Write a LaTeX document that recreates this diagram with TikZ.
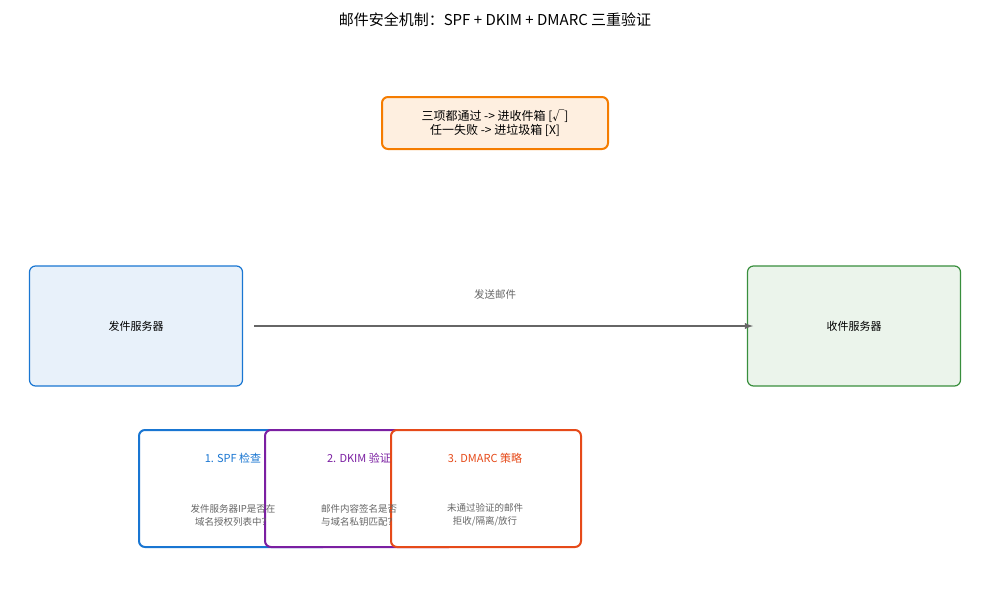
\documentclass[tikz,border=0pt]{standalone}
\usepackage{fontspec}
\setmainfont{Noto Sans CJK SC}
\definecolor{cb}{RGB}{25,118,210}
\definecolor{cp}{RGB}{123,31,162}
\definecolor{co}{RGB}{230,74,25}
\definecolor{cor}{RGB}{245,124,0}
\definecolor{cg}{RGB}{56,142,60}
\begin{document}
\begin{tikzpicture}[x=1pt,y=-1pt,
  box/.style={draw,rounded corners=6pt,line width=1.2pt},
  stepbox/.style={box,fill=white,line width=2pt,minimum width=190pt,minimum height=117pt,anchor=north west},
  lbl/.style={font=\fontsize{11}{13}\selectfont},
  desc/.style={font=\fontsize{9.5}{13}\selectfont,text=black!60,align=center}]
\useasboundingbox (0,0) rectangle (990,590);
\node[font=\fontsize{15}{18}\selectfont] (title) at (495,20) {邮件安全机制：SPF + DKIM + DMARC 三重验证};
\node[box,draw=cor,line width=2pt,fill=cor!12,minimum width=226pt,minimum height=52pt,align=center,font=\fontsize{12}{14}\selectfont,inner sep=2pt] (res) at (495,123) {三项都通过 -> 进收件箱 [√]\\任一失败 -> 进垃圾箱 [X]};
\node[box,draw=cb,fill=cb!10,minimum width=213pt,minimum height=120pt,lbl] (s) at (136,326) {发件服务器};
\node[box,draw=cg,fill=cg!10,minimum width=213pt,minimum height=120pt,lbl] (r) at (854,326) {收件服务器};
\coordinate (a1) at (254,326);
\coordinate (a2) at (753,326);
\draw[-latex,line width=1.8pt,black!60] (a1) -- (a2);
\node[font=\fontsize{10.5}{13}\selectfont,text=black!60] (lab) at (495,294) {发送邮件};
\node[stepbox,draw=cb] (b1) at (138,429) {};
\node[stepbox,draw=cp] (b2) at (264,429) {};
\node[stepbox,draw=co] (b3) at (390,429) {};
\node[lbl,text=cb] (t1) at (233,458) {1. SPF 检查};
\node[lbl,text=cp] (t2) at (359,458) {2. DKIM 验证};
\node[lbl,text=co] (t3) at (485,458) {3. DMARC 策略};
\node[desc] (d1) at (233,515) {发件服务器IP是否在\\域名授权列表中？};
\node[desc] (d2) at (359,515) {邮件内容签名是否\\与域名私钥匹配？};
\node[desc] (d3) at (485,515) {未通过验证的邮件\\拒收/隔离/放行};
\end{tikzpicture}
\end{document}
